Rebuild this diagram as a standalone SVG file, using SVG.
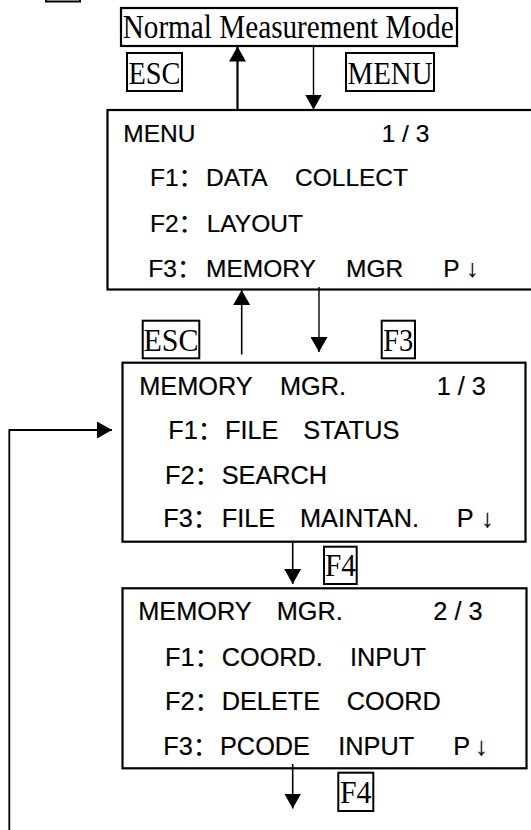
<svg xmlns="http://www.w3.org/2000/svg" width="531" height="830" viewBox="0 0 531 830">
<defs>
<style>
.box{fill:#fff;stroke:#000;stroke-width:2.2}
.lbl{fill:none;stroke:#000;stroke-width:2}
.serif{font-family:"Liberation Serif","Times New Roman",serif;fill:#000}
.lcd{font-family:"Liberation Sans",Arial,"Noto Sans CJK SC",sans-serif;fill:#000;stroke:#000;stroke-width:0.2}
.ln{fill:none;stroke:#000}
</style>
<marker id="ah" markerUnits="userSpaceOnUse" markerWidth="17" markerHeight="17" refX="15" refY="8.5" orient="auto">
<path d="M0,0 L15,8.5 L0,17 z" fill="#000"/>
</marker>
</defs>
<rect width="531" height="830" fill="#fff"/>

<g id="top-fragment"><rect class="lbl" x="46" y="-12" width="34" height="13.5"/></g>

<g id="normal-mode">
<rect class="box" x="121" y="8" width="336" height="38"/>
<text class="serif" x="122.7" y="38" font-size="33" textLength="331" lengthAdjust="spacingAndGlyphs">Normal Measurement Mode</text>
</g>

<g id="key-esc1">
<rect class="lbl" x="127" y="53" width="55" height="38"/>
<text class="serif" x="128.5" y="83.5" font-size="32" textLength="52" lengthAdjust="spacingAndGlyphs">ESC</text>
</g>
<g id="key-menu">
<rect class="lbl" x="346" y="53" width="88" height="38"/>
<text class="serif" x="347.5" y="83.5" font-size="32" textLength="85" lengthAdjust="spacingAndGlyphs">MENU</text>
</g>

<g id="menu-screen" class="lcd" font-size="24.5">
<rect class="box" x="107.5" y="110" width="440" height="179.5"/>
<text x="123.3" y="142.3">MENU</text>
<text x="381.7" y="142.3">1 / 3</text>
<text y="186"><tspan x="150">F1：</tspan><tspan x="206">DATA</tspan><tspan x="295">COLLECT</tspan></text>
<text y="231.7"><tspan x="150">F2：</tspan><tspan x="206.7">LAYOUT</tspan></text>
<text y="276.7"><tspan x="148.3">F3：</tspan><tspan x="206">MEMORY</tspan><tspan x="346">MGR</tspan><tspan x="443.3">P</tspan><tspan x="466">↓</tspan></text>
</g>

<g id="key-esc2">
<rect class="lbl" x="142.7" y="320.7" width="56.6" height="37.6"/>
<text class="serif" x="143.5" y="350.5" font-size="32" textLength="55" lengthAdjust="spacingAndGlyphs">ESC</text>
</g>
<g id="key-f3">
<rect class="lbl" x="381.7" y="320.7" width="33.3" height="37.6"/>
<text class="serif" x="383.3" y="350.5" font-size="32" textLength="30" lengthAdjust="spacingAndGlyphs">F3</text>
</g>

<g id="memory-mgr-1" class="lcd" font-size="25.3">
<rect class="box" x="122.5" y="362.7" width="403" height="179"/>
<text x="139.3" y="395">MEMORY</text>
<text x="280" y="395">MGR.</text>
<text x="436.7" y="395">1 / 3</text>
<text y="439.3"><tspan x="168.3">F1：</tspan><tspan x="225">FILE</tspan><tspan x="303.3">STATUS</tspan></text>
<text y="484"><tspan x="165">F2：</tspan><tspan x="221.7">SEARCH</tspan></text>
<text y="526.7"><tspan x="163.3">F3：</tspan><tspan x="221.7">FILE</tspan><tspan x="300">MAINTAN.</tspan><tspan x="456.7">P</tspan><tspan x="481">↓</tspan></text>
</g>

<g id="key-f4a">
<rect class="lbl" x="324" y="546.7" width="32.7" height="37.3"/>
<text class="serif" x="325" y="575.5" font-size="32" textLength="31" lengthAdjust="spacingAndGlyphs">F4</text>
</g>

<g id="memory-mgr-2" class="lcd" font-size="25.3">
<rect class="box" x="122.5" y="588.3" width="404" height="180"/>
<text x="138.3" y="620">MEMORY</text>
<text x="276.7" y="620">MGR.</text>
<text x="433.3" y="620">2 / 3</text>
<text y="666"><tspan x="165">F1：</tspan><tspan x="221.7">COORD.</tspan><tspan x="350">INPUT</tspan></text>
<text y="710"><tspan x="165">F2：</tspan><tspan x="221.7">DELETE</tspan><tspan x="346.7">COORD</tspan></text>
<text y="755"><tspan x="163.3">F3：</tspan><tspan x="220">PCODE</tspan><tspan x="338.3">INPUT</tspan><tspan x="453.3">P</tspan><tspan x="475">↓</tspan></text>
</g>

<g id="key-f4b">
<rect class="lbl" x="338.3" y="772.7" width="35" height="38.3"/>
<text class="serif" x="340" y="803" font-size="32" textLength="31.5" lengthAdjust="spacingAndGlyphs">F4</text>
</g>

<g id="connectors">
<line class="ln" stroke-width="2.2" x1="237.5" y1="109" x2="237.5" y2="46.5" marker-end="url(#ah)"/>
<line class="ln" stroke-width="1.4" x1="313.5" y1="46" x2="313.5" y2="109.5" marker-end="url(#ah)"/>
<line class="ln" stroke-width="1.6" x1="241.7" y1="354.5" x2="241.7" y2="290" marker-end="url(#ah)"/>
<line class="ln" stroke-width="1.4" x1="319" y1="287" x2="319" y2="352" marker-end="url(#ah)"/>
<polyline class="ln" stroke-width="1.8" points="9.3,832 9.3,430 112,430" marker-end="url(#ah)"/>
<line class="ln" stroke-width="1.6" x1="292.7" y1="541" x2="292.7" y2="584" marker-end="url(#ah)"/>
<line class="ln" stroke-width="1.6" x1="292.7" y1="764" x2="292.7" y2="808.5" marker-end="url(#ah)"/>
</g>
</svg>
